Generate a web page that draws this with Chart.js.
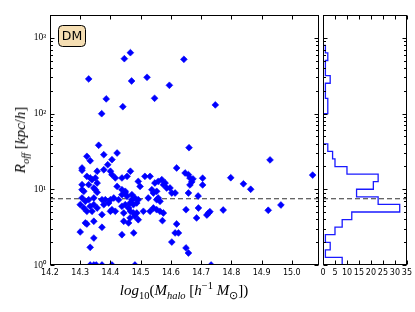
<!DOCTYPE html>
<html>
<head>
<meta charset="utf-8">
<script src="https://cdn.jsdelivr.net/npm/chart.js@4.4.1/dist/chart.umd.min.js"></script>
<style>
  body { margin: 0; background: #fff; }
  #wrap { position: relative; width: 415px; height: 312px; overflow: hidden; }
  canvas { position: absolute; left: 0; top: 0; }
  .lab { position: absolute; font-family: "Liberation Serif", serif; font-size: 15px; color: #000; white-space: nowrap; line-height: 18px; }
  .lab sub, .lab sup { font-size: 70%; line-height: 0; }
  #xlab { left: 0; width: 368px; top: 281px; text-align: center; }
  #ylab { left: 20px; top: 140px; transform: translate(-50%, -50%) rotate(-90deg); }
</style>
</head>
<body>
<div id="wrap">
  <canvas id="main" width="415" height="312"></canvas>
  <canvas id="hist" width="415" height="312"></canvas>
  <div id="xlab" class="lab"><i>log</i><sub>10</sub>(<i>M</i><sub><i>halo</i></sub> [<i>h</i><sup>−1</sup> <i>M</i><sub>⊙</sub>])</div>
  <div id="ylab" class="lab"><i>R</i><sub><i>off</i></sub> [<i>kpc</i>/<i>h</i>]</div>
</div>
<script>
/* DM halo offsets: scatter + horizontal histogram */
const panelLabel = 'DM';
const cutLine = 7.5;

const xTicks = [14.2, 14.3, 14.4, 14.5, 14.6, 14.7, 14.8, 14.9, 15.0];
const yTicks = [1, 10, 100, 1000];
const yTickLabels = ['10⁰', '10¹', '10²', '10³'];
const histTicks = [0, 5, 10, 15, 20, 25, 30, 35];

const haloMass = [
  14.361, 14.378, 14.322, 14.333, 14.422, 14.405, 14.391, 14.306, 14.306, 14.356,
  14.378, 14.400, 14.405, 14.416, 14.322, 14.333, 14.339, 14.350, 14.356, 14.438,
  14.455, 14.466, 14.306, 14.306, 14.312, 14.328, 14.345, 14.350, 14.356, 14.422,
  14.438, 14.449, 14.438, 14.449, 14.455, 14.306, 14.328, 14.345, 14.372, 14.383,
  14.400, 14.411, 14.427, 14.471, 14.317, 14.300, 14.312, 14.322, 14.333, 14.345,
  14.356, 14.339, 14.394, 14.378, 14.405, 14.416, 14.400, 14.438, 14.449, 14.460,
  14.444, 14.466, 14.372, 14.317, 14.322, 14.345, 14.372, 14.444, 14.460, 14.300,
  14.345, 14.438, 14.477, 14.333, 14.333, 14.345, 14.353, 14.372, 14.405, 14.619,
  14.647, 14.658, 14.663, 14.673, 14.669, 14.663, 14.705, 14.705, 14.492, 14.514,
  14.531, 14.498, 14.547, 14.558, 14.570, 14.575, 14.581, 14.537, 14.542, 14.553,
  14.586, 14.597, 14.603, 14.658, 14.481, 14.471, 14.525, 14.558, 14.690, 14.465,
  14.476, 14.487, 14.492, 14.553, 14.564, 14.465, 14.481, 14.492, 14.476, 14.487,
  14.509, 14.531, 14.542, 14.553, 14.564, 14.575, 14.572, 14.650, 14.691, 14.685,
  14.619, 14.614, 14.625, 14.603, 14.650, 14.658, 14.481, 14.928, 15.069, 14.798,
  14.840, 14.864, 14.719, 14.724, 14.729, 14.773, 14.922, 14.964, 14.733, 14.328,
  14.446, 14.466, 14.643, 14.470, 14.521, 14.595, 14.386, 14.546, 14.441, 14.747,
  14.371, 14.660, 14.614
];
const offsets = [
  38.1, 28.6, 27.2, 23.8, 30.1, 24.6, 21.1, 19.1, 17.8, 17.3,
  18.1, 17.3, 15.6, 14.1, 14.8, 14.1, 13.4, 14.1, 12.1, 14.1,
  14.8, 17.3, 11.5, 9.87, 9.40, 11.5, 10.4, 9.87, 9.12, 10.9,
  9.87, 9.40, 8.48, 8.93, 8.08, 7.67, 7.28, 7.67, 7.28, 7.28,
  7.28, 7.67, 7.28, 8.48, 6.93, 6.26, 5.66, 5.12, 5.96, 6.26,
  5.66, 5.12, 6.59, 6.26, 5.37, 5.12, 5.12, 5.96, 6.26, 5.66,
  4.86, 5.12, 4.62, 3.59, 3.48, 3.78, 3.15, 3.78, 3.59, 2.73,
  2.27, 2.51, 2.65, 1.71, 1.0, 1.0, 1.0, 1.0, 1.0, 19.1,
  16.4, 15.6, 14.1, 13.7, 12.5, 11.4, 14.0, 11.4, 12.7, 14.8,
  14.8, 10.9, 12.1, 12.7, 13.4, 11.5, 12.1, 9.87, 8.93, 9.40,
  10.4, 10.4, 8.93, 8.93, 7.67, 7.28, 7.67, 7.67, 8.15, 6.59,
  6.26, 6.59, 7.28, 7.28, 6.93, 4.18, 4.40, 3.96, 4.86, 4.86,
  5.12, 5.12, 5.66, 5.37, 5.12, 4.86, 3.85, 5.37, 5.66, 4.18,
  3.48, 2.65, 2.65, 2.01, 1.68, 1.44, 1.0, 24.4, 15.4, 14.2,
  11.8, 10.0, 4.57, 4.82, 5.06, 5.32, 5.28, 6.20, 1.0, 286,
  530, 636, 520, 269, 301, 236, 156, 159, 123, 130,
  99.5, 35.4, 8.93
];

// histogram: bin edges in log10(R_off), counts per bin
const histLogEdges = [0.0, 0.1, 0.2, 0.3, 0.4, 0.5, 0.6, 0.7, 0.8, 0.9, 1.0, 1.1, 1.2, 1.3, 1.4, 1.5, 1.6,
                      1.7, 1.8, 1.9, 2.0, 2.1, 2.2, 2.3, 2.4, 2.5, 2.6, 2.7, 2.8, 2.9, 3.0, 3.1, 3.2, 3.31];
const histCounts = [8, 1, 3, 1, 5, 8, 12, 32, 23, 14, 21, 23, 10, 5, 4, 2, 0,
                    0, 0, 0, 2, 2, 1, 1, 3, 1, 1, 2, 1, 0, 0, 0, 0];

const xMin = 14.2, xMax = 15.09;
const yMin = 1, yMax = 2000;

const minorLog = [];
yTicks.forEach(d => { for (let k = 2; k <= 9; k++) if (d * k < yMax) minorLog.push(d * k); });

// frame box + inward ticks like matplotlib
const frame = {
  id: 'frame',
  afterDraw(chart, args, opts) {
    const { ctx, chartArea: a, scales } = chart;
    const L = Math.round(a.left) + 0.5, R = Math.round(a.right) - 0.5;
    const T = Math.round(a.top) + 0.5, B = Math.round(a.bottom) - 0.5;
    ctx.save();
    ctx.strokeStyle = '#000';
    ctx.lineWidth = 1;
    ctx.beginPath();
    (opts.xMajor || []).forEach(v => {
      const p = Math.round(scales.x.getPixelForValue(v)) + 0.5;
      ctx.moveTo(p, B); ctx.lineTo(p, B - 4);
      ctx.moveTo(p, T); ctx.lineTo(p, T + 4);
    });
    yTicks.forEach(v => {
      const p = Math.round(scales.y.getPixelForValue(v)) + 0.5;
      ctx.moveTo(L, p); ctx.lineTo(L + 4, p);
      ctx.moveTo(R, p); ctx.lineTo(R - 4, p);
    });
    minorLog.forEach(v => {
      const p = Math.round(scales.y.getPixelForValue(v)) + 0.5;
      ctx.moveTo(L, p); ctx.lineTo(L + 2.5, p);
      ctx.moveTo(R, p); ctx.lineTo(R - 2.5, p);
    });
    ctx.stroke();
    ctx.strokeRect(L, T, R - L, B - T);

    if (opts.label) {
      const bx = L + 8, by = T + 10, bw = 27, bh = 21;
      ctx.beginPath();
      ctx.roundRect(bx, by, bw, bh, 4);
      ctx.fillStyle = '#f5deb3';
      ctx.fill();
      ctx.stroke();
      ctx.fillStyle = '#000';
      ctx.font = '12.5px "DejaVu Sans"';
      ctx.textAlign = 'center';
      ctx.textBaseline = 'middle';
      ctx.fillText(opts.label, bx + bw / 2, by + bh / 2 + 0.5);
    }
    ctx.restore();
  }
};

const tickFont = { family: 'DejaVu Sans', size: 8 };

new Chart(document.getElementById('main'), {
  type: 'scatter',
  data: {
    datasets: [
      {
        data: haloMass.map((m, i) => ({ x: m, y: offsets[i] })),
        pointStyle: 'rectRot', pointRadius: 3.4, borderWidth: 0.6,
        backgroundColor: '#0000ff', borderColor: '#0000ff', clip: 0
      },
      {
        data: [{ x: xMin, y: cutLine }, { x: xMax, y: cutLine }],
        showLine: true, pointRadius: 0, borderColor: '#333', borderWidth: 1.2,
        borderDash: [5, 3], clip: 0
      }
    ]
  },
  options: {
    responsive: false, animation: false, devicePixelRatio: 1,
    layout: { padding: { left: 0, top: 15, right: 96, bottom: 0 } },
    plugins: { legend: { display: false }, tooltip: { enabled: false },
      frame: { xMajor: xTicks, label: panelLabel } },
    scales: {
      x: {
        type: 'linear', min: xMin, max: xMax,
        afterBuildTicks: s => { s.ticks = xTicks.map(v => ({ value: v })); },
        afterFit: s => { s.height = 47; },
        ticks: { callback: v => v.toFixed(1), font: tickFont, color: '#000', padding: 3, maxRotation: 0, autoSkip: false },
        grid: { display: false, drawTicks: false }, border: { display: false }
      },
      y: {
        type: 'logarithmic', min: yMin, max: yMax,
        afterBuildTicks: s => { s.ticks = yTicks.map(v => ({ value: v })); },
        afterFit: s => { s.width = 50; },
        ticks: { callback: (v, i) => yTickLabels[i], font: { family: 'Liberation Serif', size: 9.5 }, color: '#000', padding: 4, autoSkip: false },
        grid: { display: false, drawTicks: false }, border: { display: false }
      }
    }
  },
  plugins: [frame]
});

// step outline of the horizontal histogram
const steps = [{ x: 0, y: Math.pow(10, histLogEdges[0]) }];
histCounts.forEach((c, i) => {
  steps.push({ x: c, y: Math.pow(10, histLogEdges[i]) });
  steps.push({ x: c, y: Math.pow(10, histLogEdges[i + 1]) });
});

new Chart(document.getElementById('hist'), {
  type: 'scatter',
  data: {
    datasets: [
      {
        data: steps, showLine: true, pointRadius: 0, borderColor: '#1a1aff',
        borderWidth: 1.3, clip: 0
      },
      {
        data: [{ x: 0, y: cutLine }, { x: 35, y: cutLine }],
        showLine: true, pointRadius: 0, borderColor: '#333', borderWidth: 1.2,
        borderDash: [5, 3], clip: 0
      }
    ]
  },
  options: {
    responsive: false, animation: false, devicePixelRatio: 1,
    layout: { padding: { left: 323, top: 15, right: 8, bottom: 0 } },
    plugins: { legend: { display: false }, tooltip: { enabled: false },
      frame: { xMajor: histTicks } },
    scales: {
      x: {
        type: 'linear', min: 0, max: 35,
        afterBuildTicks: s => { s.ticks = histTicks.map(v => ({ value: v })); },
        afterFit: s => { s.height = 47; },
        ticks: { font: tickFont, color: '#000', padding: 3, maxRotation: 0, autoSkip: false },
        grid: { display: false, drawTicks: false }, border: { display: false }
      },
      y: {
        type: 'logarithmic', min: yMin, max: yMax,
        afterFit: s => { s.width = 0; },
        ticks: { display: false },
        grid: { display: false, drawTicks: false }, border: { display: false }
      }
    }
  },
  plugins: [frame]
});
</script>
</body>
</html>
